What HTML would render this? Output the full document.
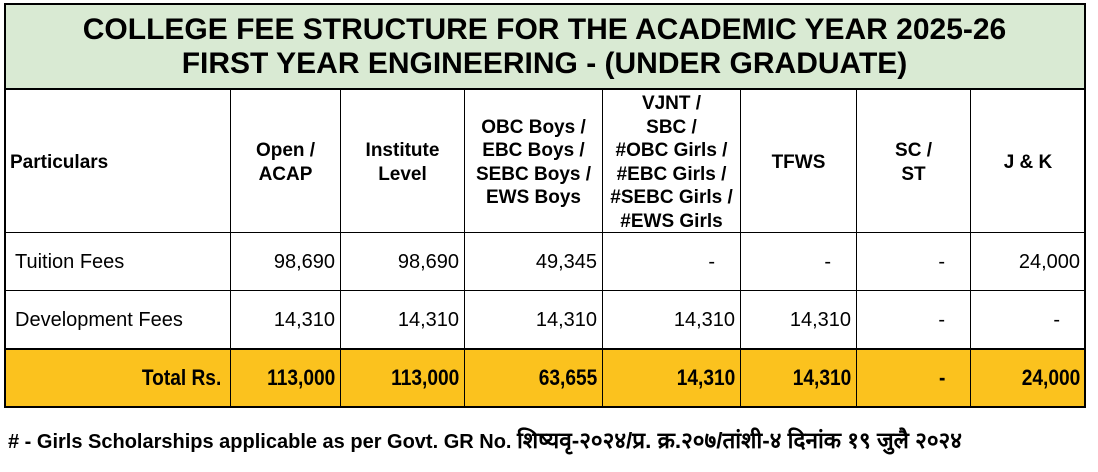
<!DOCTYPE html>
<html><head><meta charset="utf-8"><style>
body{margin:0;width:1098px;height:472px;background:#fff;position:relative;overflow:hidden;font-family:"Liberation Sans",Arial,sans-serif;color:#000}
.c{position:absolute;box-sizing:border-box;display:flex;align-items:center}
.hl{position:absolute;background:#000}
.h{font-weight:bold;font-size:19px;line-height:23.5px;text-align:center;justify-content:center;padding-top:3px}
.n{font-size:20px;justify-content:flex-end;padding-right:5px;padding-top:1px}
.t{font-weight:bold;font-size:22px;justify-content:flex-end;padding-right:5px}
.t span{display:inline-block;transform:scaleX(0.87);transform-origin:right center;white-space:nowrap}
</style></head><body>
<div class="c" style="left:4px;top:3px;width:1081px;height:86px;background:#d9ead3;justify-content:center;text-align:center;font-weight:bold;font-size:30px;line-height:34px;padding-top:2px">COLLEGE FEE STRUCTURE FOR THE ACADEMIC YEAR 2025-26<br>FIRST YEAR ENGINEERING - (UNDER GRADUATE)</div>
<div style="position:absolute;left:4px;top:349px;width:1081px;height:58px;background:#fbc21e"></div>
<div class="hl" style="left:4px;top:3px;width:1082px;height:2px"></div>
<div class="hl" style="left:4px;top:88px;width:1082px;height:2px"></div>
<div class="hl" style="left:4px;top:232px;width:1082px;height:1px"></div>
<div class="hl" style="left:4px;top:290px;width:1082px;height:1px"></div>
<div class="hl" style="left:4px;top:348px;width:1082px;height:2px"></div>
<div class="hl" style="left:4px;top:406px;width:1082px;height:2px"></div>
<div class="hl" style="left:4px;top:3px;width:2px;height:405px"></div>
<div class="hl" style="left:1084px;top:3px;width:2px;height:405px"></div>
<div class="hl" style="left:230px;top:89px;width:1px;height:318px"></div>
<div class="hl" style="left:340px;top:89px;width:1px;height:318px"></div>
<div class="hl" style="left:464px;top:89px;width:1px;height:318px"></div>
<div class="hl" style="left:602px;top:89px;width:1px;height:318px"></div>
<div class="hl" style="left:740px;top:89px;width:1px;height:318px"></div>
<div class="hl" style="left:856px;top:89px;width:1px;height:318px"></div>
<div class="hl" style="left:970px;top:89px;width:1px;height:318px"></div>
<div class="c h" style="left:6px;top:89px;width:224px;height:144px;justify-content:flex-start;padding-left:4px">Particulars</div>
<div class="c h" style="left:231px;top:89px;width:109px;height:144px">Open /<br>ACAP</div>
<div class="c h" style="left:341px;top:89px;width:123px;height:144px">Institute<br>Level</div>
<div class="c h" style="left:465px;top:89px;width:137px;height:144px">OBC Boys /<br>EBC Boys /<br>SEBC Boys /<br>EWS Boys</div>
<div class="c h" style="left:603px;top:89px;width:137px;height:144px">VJNT /<br>SBC /<br>#OBC Girls /<br>#EBC Girls /<br>#SEBC Girls /<br>#EWS Girls</div>
<div class="c h" style="left:741px;top:89px;width:115px;height:144px">TFWS</div>
<div class="c h" style="left:857px;top:89px;width:113px;height:144px">SC /<br>ST</div>
<div class="c h" style="left:971px;top:89px;width:114px;height:144px">J &amp; K</div>
<div class="c n" style="left:6px;top:233px;width:224px;height:58px;justify-content:flex-start;padding-left:9px">Tuition Fees</div>
<div class="c n" style="left:231px;top:233px;width:109px;height:58px">98,690</div>
<div class="c n" style="left:341px;top:233px;width:123px;height:58px">98,690</div>
<div class="c n" style="left:465px;top:233px;width:137px;height:58px">49,345</div>
<div class="c n" style="left:603px;top:233px;width:137px;height:58px;padding-right:25px">-</div>
<div class="c n" style="left:741px;top:233px;width:115px;height:58px;padding-right:25px">-</div>
<div class="c n" style="left:857px;top:233px;width:113px;height:58px;padding-right:25px">-</div>
<div class="c n" style="left:971px;top:233px;width:114px;height:58px">24,000</div>
<div class="c n" style="left:6px;top:291px;width:224px;height:58px;justify-content:flex-start;padding-left:9px">Development Fees</div>
<div class="c n" style="left:231px;top:291px;width:109px;height:58px">14,310</div>
<div class="c n" style="left:341px;top:291px;width:123px;height:58px">14,310</div>
<div class="c n" style="left:465px;top:291px;width:137px;height:58px">14,310</div>
<div class="c n" style="left:603px;top:291px;width:137px;height:58px">14,310</div>
<div class="c n" style="left:741px;top:291px;width:115px;height:58px">14,310</div>
<div class="c n" style="left:857px;top:291px;width:113px;height:58px;padding-right:25px">-</div>
<div class="c n" style="left:971px;top:291px;width:114px;height:58px;padding-right:25px">-</div>
<div class="c t" style="left:6px;top:349px;width:224px;height:58px;padding-right:9px"><span>Total Rs.</span></div>
<div class="c t" style="left:231px;top:349px;width:109px;height:58px"><span>113,000</span></div>
<div class="c t" style="left:341px;top:349px;width:123px;height:58px"><span>113,000</span></div>
<div class="c t" style="left:465px;top:349px;width:137px;height:58px"><span>63,655</span></div>
<div class="c t" style="left:603px;top:349px;width:137px;height:58px"><span>14,310</span></div>
<div class="c t" style="left:741px;top:349px;width:115px;height:58px"><span>14,310</span></div>
<div class="c t" style="left:857px;top:349px;width:113px;height:58px;padding-right:25px"><span>-</span></div>
<div class="c t" style="left:971px;top:349px;width:114px;height:58px"><span>24,000</span></div>
<div style="position:absolute;left:8px;top:424px;font-weight:bold;font-size:20px;white-space:nowrap"># - Girls Scholarships applicable as per Govt. GR No. <span style="font-size:22.5px">शिष्यवृ-२०२४/प्र. क्र.२०७/तांशी-४ दिनांक १९ जुलै २०२४</span></div>
</body></html>
